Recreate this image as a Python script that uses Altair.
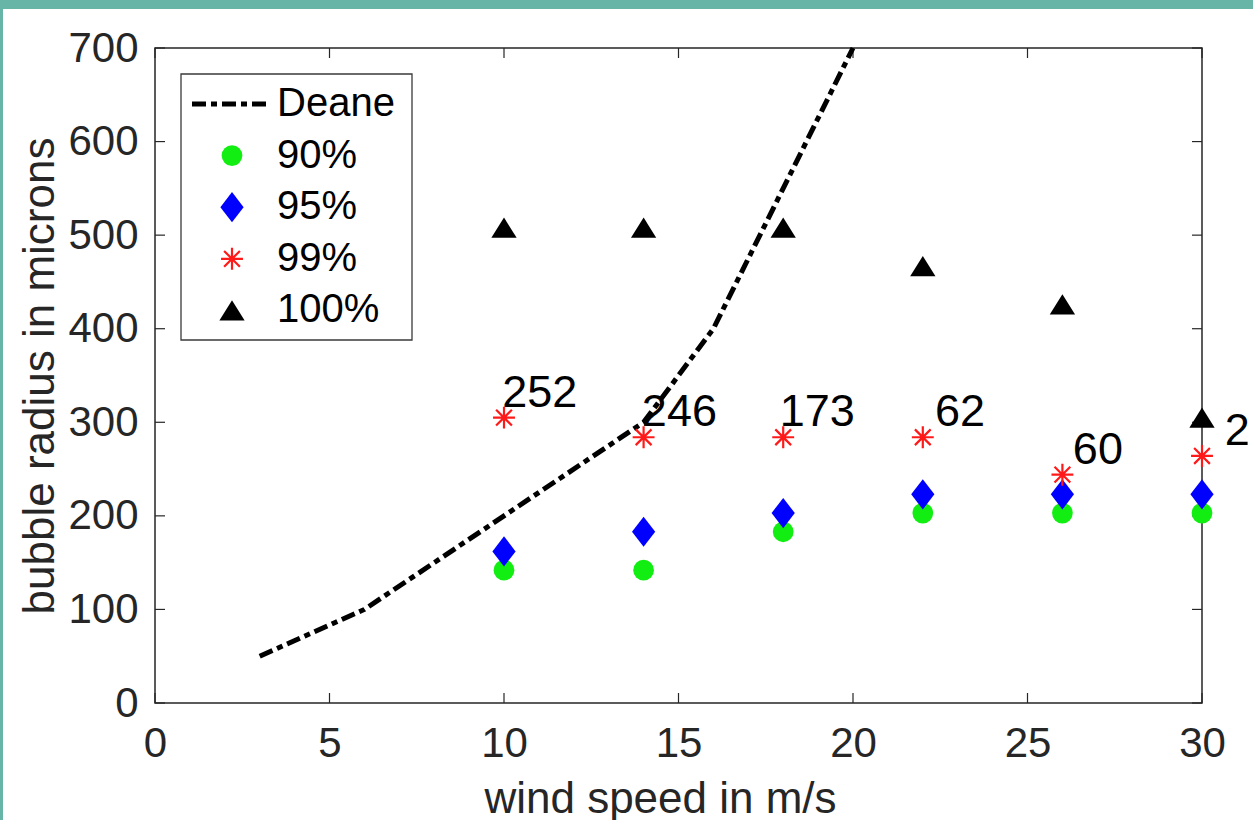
import altair as alt
import pandas as pd

# Wind speeds at which the bubble-size percentiles were measured
wind = [10, 14, 18, 22, 26, 30]
r90 = [142, 142, 183, 203, 203, 203]
r95 = [162, 183, 203, 223, 223, 223]
r99 = [305, 284, 284, 284, 244, 264]
r100 = [508, 508, 508, 467, 426, 305]

# Counts printed next to the 99% markers
count_text = ["252", "246", "173", "62", "60", "2"]
count_x = [9.95, 13.95, 17.9, 22.35, 26.3, 30.65]

# Deane curve
deane_wind = [3, 6, 10, 14, 16, 18, 20]
deane_radius = [50, 100, 200, 300, 400, 550, 700]

x_ticks = [0, 5, 10, 15, 20, 25, 30]
y_ticks = [0, 100, 200, 300, 400, 500, 600, 700]
legend_labels = ["Deane", "90%", "95%", "99%", "100%"]

FONT = "Liberation Sans"
INK = "#262626"
W, H = 1047, 655

xs = alt.Scale(domain=[0, 30], nice=False, zero=False)
ys = alt.Scale(domain=[0, 700], nice=False, zero=False)
x_axis = alt.Axis(values=x_ticks, format="d")
y_axis = alt.Axis(values=y_ticks, format="d")
XT = "wind speed in m/s"
YT = "bubble radius in microns"


def X(field):
    return alt.X(f"{field}:Q", scale=xs, axis=x_axis, title=XT)


def Y(field):
    return alt.Y(f"{field}:Q", scale=ys, axis=y_axis, title=YT)


pts = pd.DataFrame({"wind": wind, "r90": r90, "r95": r95, "r99": r99, "r100": r100,
                    "lx": count_x, "txt": count_text})
deane = pd.DataFrame({"wind": deane_wind, "radius": deane_radius})
xt = pd.DataFrame({"t": x_ticks})
yt = pd.DataFrame({"t": y_ticks})
one = pd.DataFrame({"k": [0]})

DIAMOND = "M0,-1.3L1,0L0,1.3L-1,0Z"
ASTER = "M0,-1L0,1M-1,0L1,0M-0.72,-0.72L0.72,0.72M-0.72,0.72L0.72,-0.72"
TRI = "M0,-0.8L1,0.8L-1,0.8Z"
GREEN, BLUE, RED = "#12ee12", "#0000ff", "#ff1a1a"
DASH = [14, 5, 6, 5]

# marker styles shared by the plot and the legend
M90 = dict(shape="circle", filled=True, size=430, color=GREEN, opacity=1)
M95 = dict(shape=DIAMOND, filled=True, size=540, color=BLUE, opacity=1)
M99 = dict(shape=ASTER, filled=False, size=480, color=RED, strokeWidth=2.2, opacity=1)
M100 = dict(shape=TRI, filled=True, size=640, color="black", opacity=1)

# teal frame strips around the white figure
teal = "#66b5a6"
strip_top = alt.Chart(one).mark_rect(color=teal).encode(
    x=alt.value(-155), x2=alt.value(W + 51), y=alt.value(-48), y2=alt.value(-39))
strip_left = alt.Chart(one).mark_rect(color=teal).encode(
    x=alt.value(-155), x2=alt.value(-152), y=alt.value(-48), y2=alt.value(H + 117))

# inward ticks on all four sides
tick_style = dict(color=INK, strokeWidth=1.2)
tb = alt.Chart(xt).mark_rule(**tick_style).encode(x=X("t"), y=alt.value(H), y2=alt.value(H - 10))
tt = alt.Chart(xt).mark_rule(**tick_style).encode(x=X("t"), y=alt.value(0), y2=alt.value(10))
tl = alt.Chart(yt).mark_rule(**tick_style).encode(y=Y("t"), x=alt.value(0), x2=alt.value(10))
tr = alt.Chart(yt).mark_rule(**tick_style).encode(y=Y("t"), x=alt.value(W), x2=alt.value(W - 10))

line = alt.Chart(deane).mark_line(color="black", strokeWidth=5, strokeDash=DASH).encode(
    x=X("wind"), y=Y("radius"))

p90 = alt.Chart(pts).mark_point(**M90).encode(x=X("wind"), y=Y("r90"))
p95 = alt.Chart(pts).mark_point(**M95).encode(x=X("wind"), y=Y("r95"))
p99 = alt.Chart(pts).mark_point(**M99).encode(x=X("wind"), y=Y("r99"))
p100 = alt.Chart(pts).mark_point(**M100).encode(x=X("wind"), y=Y("r100"))

counts = alt.Chart(pts).mark_text(align="left", baseline="alphabetic", dy=-11, fontSize=45,
                                  font=FONT, color="black").encode(
    x=X("lx"), y=Y("r99"), text="txt:N")

# legend
lg_box = alt.Chart(one).mark_rect(fill="white", stroke="#3a3a3a", strokeWidth=1.3).encode(
    x=alt.value(26), x2=alt.value(257), y=alt.value(26), y2=alt.value(292))
row_y = [56 + 51.6 * i for i in range(len(legend_labels))]
lg_line = alt.Chart(one).mark_rule(color="black", strokeWidth=5, strokeDash=DASH).encode(
    x=alt.value(37), x2=alt.value(115), y=alt.value(row_y[0]))
lg_marks = [
    alt.Chart(one).mark_point(**style).encode(x=alt.value(77), y=alt.value(yy))
    for style, yy in zip([M90, M95, M99, M100], row_y[1:])
]
lg_text = [
    alt.Chart(one).mark_text(align="left", baseline="middle", fontSize=40, font=FONT,
                             color="black").encode(
        x=alt.value(122), y=alt.value(yy), text=alt.value(lab))
    for lab, yy in zip(legend_labels, row_y)
]

chart = alt.layer(
    strip_top, strip_left, tb, tt, tl, tr, line, p90, p95, p99, p100, counts,
    lg_box, lg_line, *lg_marks, *lg_text,
).properties(
    width=W, height=H,
    padding={"left": 155, "top": 48, "right": 51, "bottom": 117},
    autosize=alt.AutoSizeParams(type="none"),
    background="white",
).configure_view(
    stroke=INK, strokeWidth=1.5, fill="white",
).configure_axis(
    grid=False, domain=False, ticks=False, tickSize=0, zindex=1,
    labelFont=FONT, titleFont=FONT, labelColor=INK, titleColor=INK,
    titleFontWeight="normal", labelOverlap=False, labelBound=False,
).configure_axisX(
    labelFontSize=42, labelPadding=53, labelBaseline="alphabetic", labelFlush=False,
    titleFontSize=44, titleX=505, titleY=109, titleBaseline="alphabetic", titleAlign="center",
).configure_axisY(
    labelFontSize=42, labelPadding=17, labelFlush=False,
    titleFontSize=44, titleX=-102, titleY=H / 2, titleAngle=270,
    titleBaseline="alphabetic", titleAlign="center",
)

chart.save("out.html", embed_options={"renderer": "svg", "actions": False})
